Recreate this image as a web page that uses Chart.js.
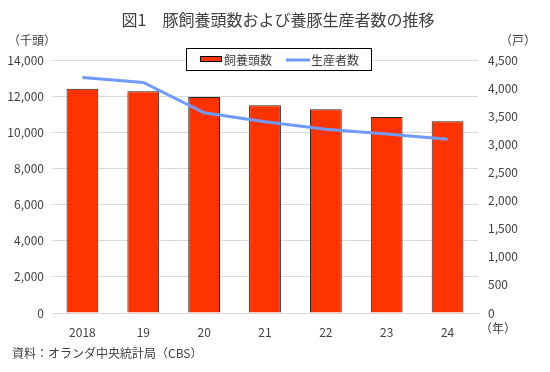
<!DOCTYPE html>
<html>
<head>
<meta charset="utf-8">
<script src="https://cdn.jsdelivr.net/npm/chart.js@4"></script>
<style>
  body { margin: 0; background: #fff; }
  #wrap { width: 550px; height: 372px; }
</style>
</head>
<body>
<div id="wrap"><canvas id="pigs"></canvas></div>
<script>
// data
var years = ["2018", "19", "20", "21", "22", "23", "24"];
var headCount = [12410, 12270, 11950, 11490, 11270, 10850, 10610]; // 千頭
var farms = [4190, 4100, 3560, 3400, 3270, 3185, 3090]; // 戸

var FONT = "'Noto Sans CJK JP', 'Noto Sans', sans-serif";
var TXT = "#404040";

// unit labels, title, legend box, source line
var extras = {
    id: 'extras',
    afterDraw: function(chart) {
        var c = chart.ctx;
        c.save();
        c.fillStyle = TXT;
        c.textBaseline = 'middle';

        c.font = "16px " + FONT;
        c.textAlign = 'center';
        c.fillText("図1　豚飼養頭数および養豚生産者数の推移", 278, 20);

        c.font = "12px " + FONT;
        c.textAlign = 'left';
        c.fillText("（千頭）", 8, 40);
        c.fillText("（戸）", 500, 40);
        c.fillText("（年）", 480, 328);
        c.fillText("資料：オランダ中央統計局（CBS）", 12, 353);

        // legend
        var bars = chart.data.datasets[0], line = chart.data.datasets[1];
        var lx = 186, ly = 48, lw = 185, lh = 22;
        c.fillStyle = '#fff';
        c.fillRect(lx, ly, lw, lh);
        c.strokeStyle = '#000';
        c.lineWidth = 1;
        c.strokeRect(lx + 0.5, ly + 0.5, lw, lh);
        c.fillStyle = bars.backgroundColor;
        c.fillRect(200, 56, 22, 6);
        c.strokeRect(200.5, 56.5, 21, 5);
        c.fillStyle = TXT;
        c.fillText(bars.label, 224, 60);
        c.strokeStyle = line.borderColor;
        c.lineWidth = 3;
        c.beginPath();
        c.moveTo(286, 60);
        c.lineTo(310, 60);
        c.stroke();
        c.fillText(line.label, 311, 60);
        c.restore();
    }
};

var ctx = document.getElementById("pigs").getContext("2d");
var chart = new Chart(ctx, {
    data: {
        labels: years,
        datasets: [
            {
                type: 'bar',
                label: '飼養頭数',
                data: headCount,
                yAxisID: 'y',
                backgroundColor: '#FF3300',
                borderColor: '#222',
                borderWidth: 1,
                categoryPercentage: 0.55,
                barPercentage: 0.95,
                order: 1
            },
            {
                type: 'line',
                label: '生産者数',
                data: farms,
                yAxisID: 'y2',
                borderColor: '#6F9BFF',
                borderWidth: 3,
                pointRadius: 0,
                tension: 0,
                order: 0
            }
        ]
    },
    options: {
        responsive: true,
        maintainAspectRatio: false,
        animation: false,
        layout: { padding: { top: 60, bottom: 26, left: 0, right: 0 } },
        plugins: {
            legend: { display: false },
            title: { display: false },
            tooltip: { enabled: false }
        },
        scales: {
            x: {
                grid: { display: false },
                border: { color: '#d9d9d9' },
                ticks: { color: TXT, font: { family: FONT, size: 12 }, padding: 4 },
                afterFit: function(s) { s.height = 33; }
            },
            y: {
                position: 'left',
                min: 0, max: 14000,
                ticks: {
                    stepSize: 2000, color: TXT, padding: 8,
                    font: { family: FONT, size: 12 },
                    callback: function(v) { return v.toLocaleString('en-US'); }
                },
                grid: { color: '#d9d9d9', drawTicks: false },
                border: { display: false },
                afterFit: function(s) { s.width = 52; }
            },
            y2: {
                position: 'right',
                min: 0, max: 4500,
                ticks: {
                    stepSize: 500, color: TXT, padding: 10,
                    font: { family: FONT, size: 12 },
                    callback: function(v) { return v.toLocaleString('en-US'); }
                },
                grid: { display: false, drawTicks: false },
                border: { display: false },
                afterFit: function(s) { s.width = 72; }
            }
        }
    },
    plugins: [extras]
});
</script>
</body>
</html>
